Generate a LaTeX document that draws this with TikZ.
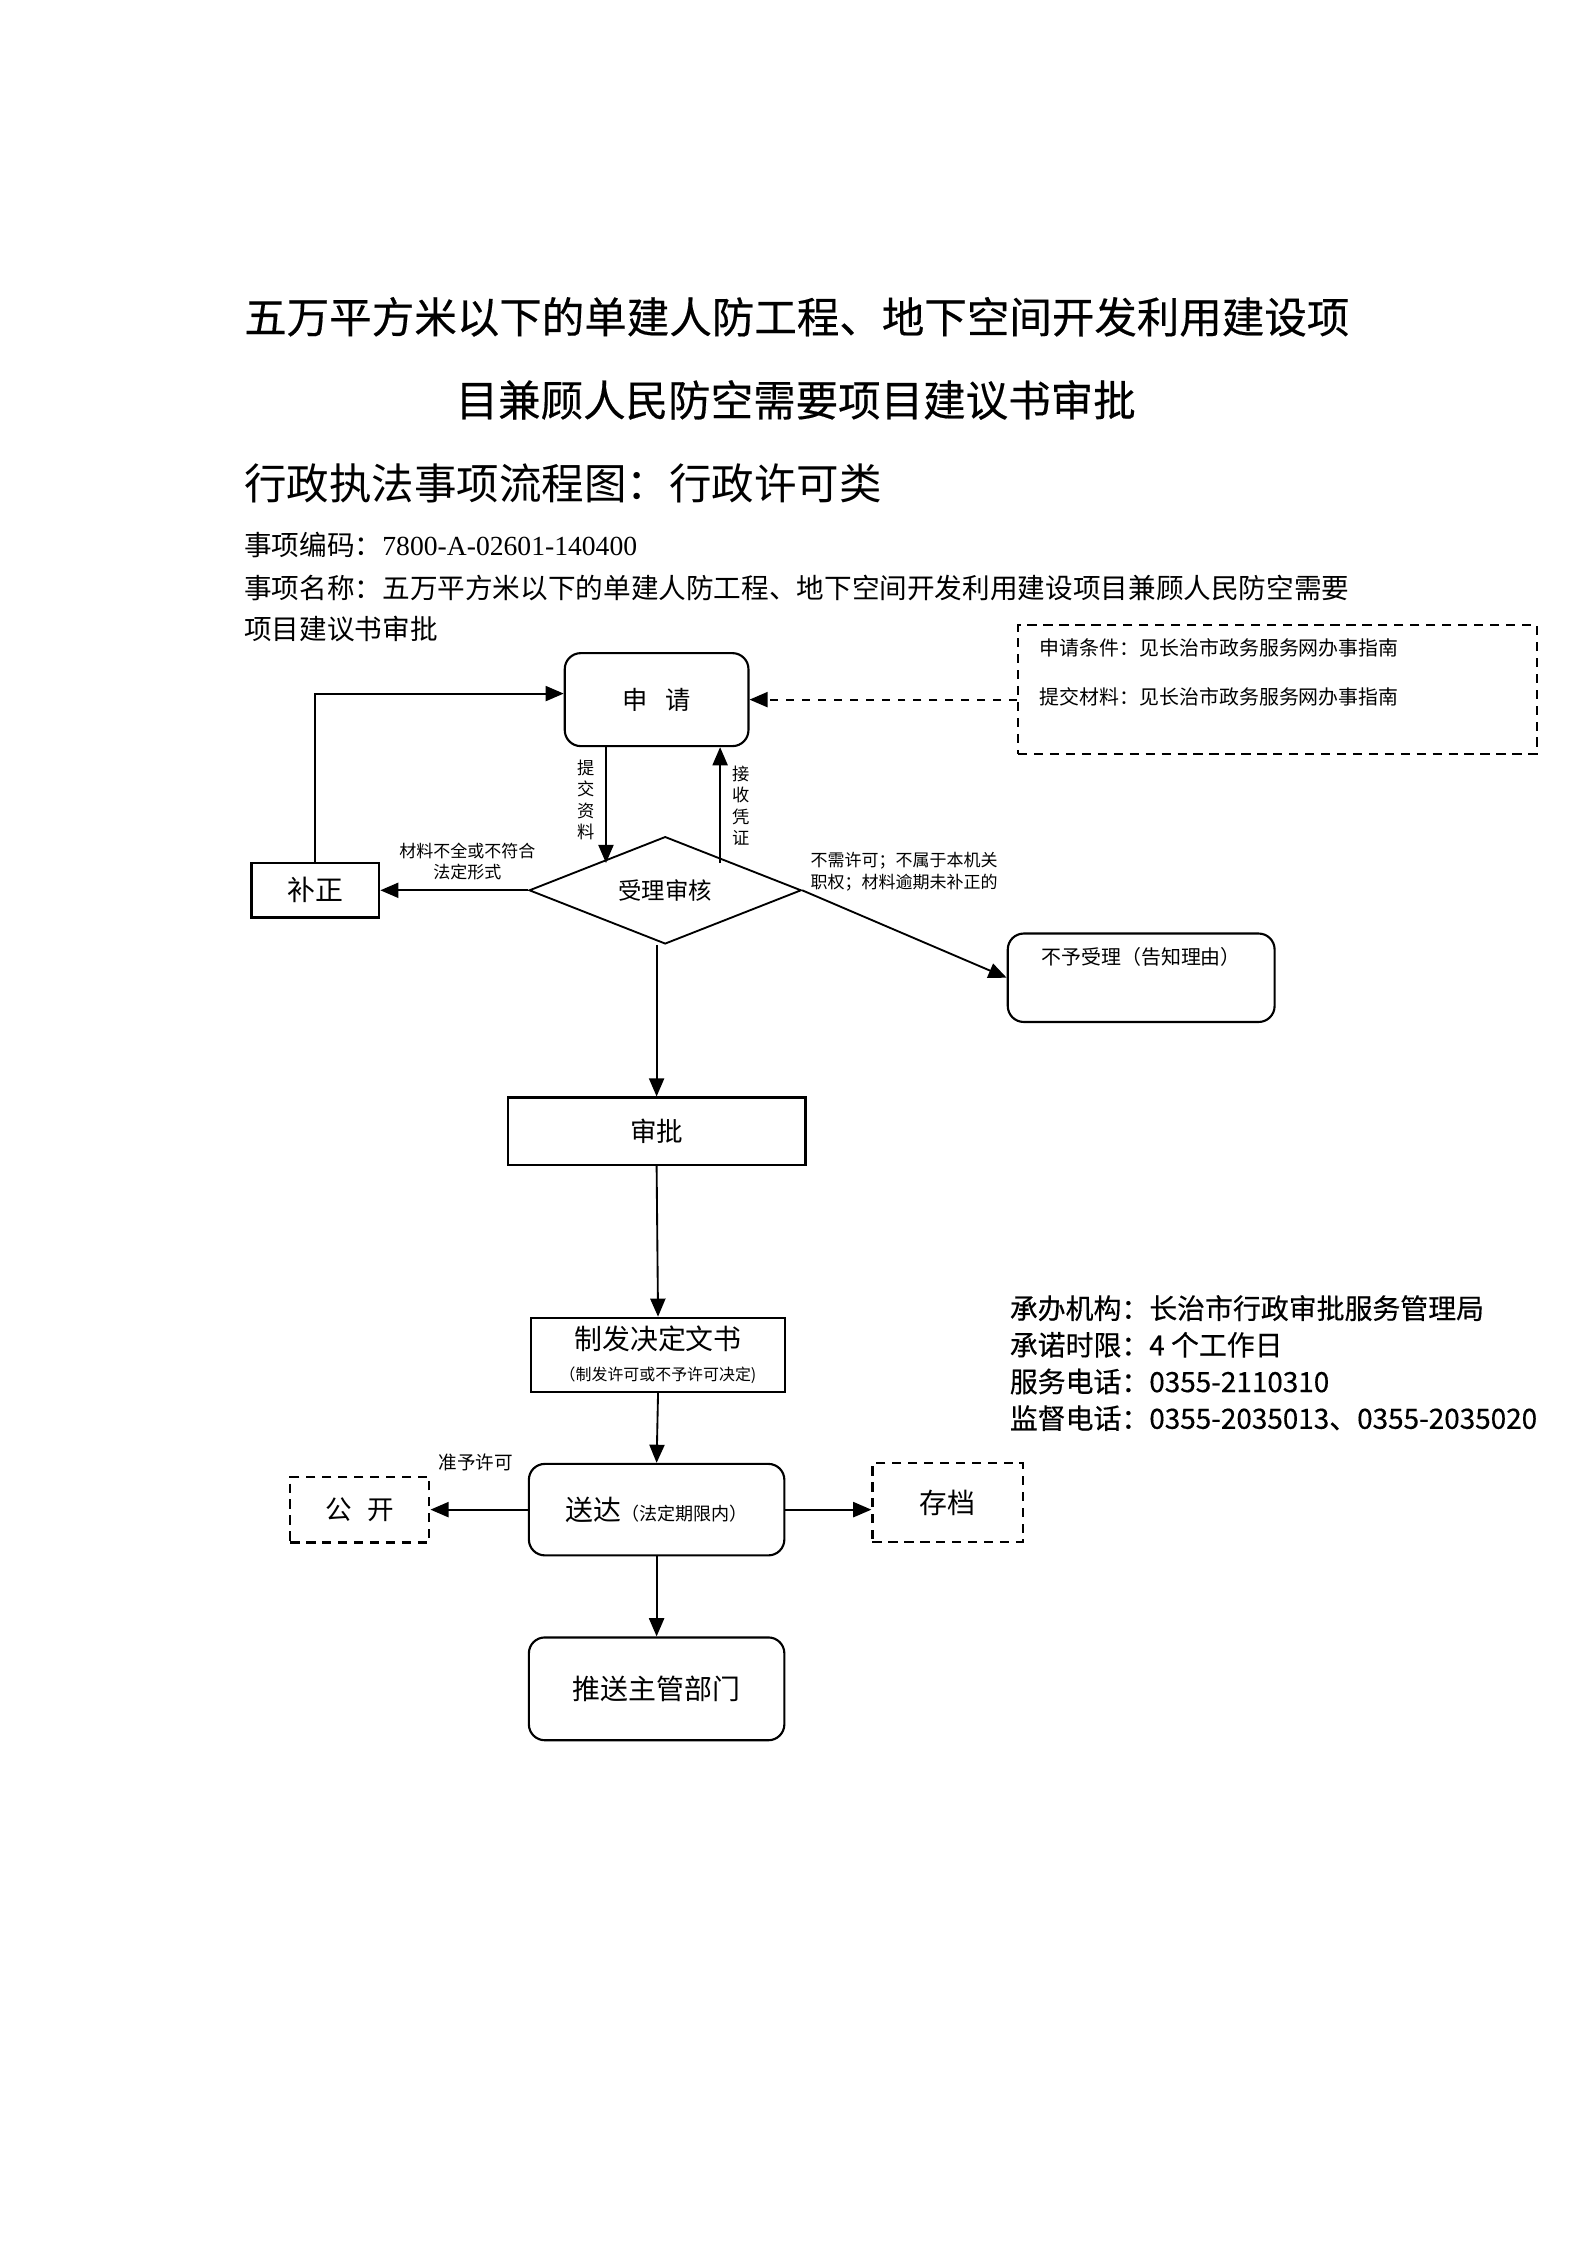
\documentclass[tikz,border=0pt]{standalone}
\usepackage{fontspec}
\setmainfont{Noto Sans CJK SC}
\newfontfamily\tnr{Liberation Serif}
\newfontfamily\hei[FakeBold=0.4]{Noto Sans CJK SC}
\usetikzlibrary{shapes.geometric,arrows.meta}
\newcommand\fsz[1]{\fontsize{#1}{#1}\selectfont}

\begin{document}
\begin{tikzpicture}[x=0.01896cm, y=-0.01896cm,
  box/.style={draw, line width=0.8pt, inner sep=0pt},
  rbox/.style={box, rounded corners=6pt},
  dbox/.style={draw, line width=0.8pt, dash pattern=on 3.5pt off 2.5pt, inner sep=0pt},
  dec/.style={draw, diamond, line width=0.7pt, inner sep=0pt, aspect=2.5},
  arr/.style={line width=0.7pt, -{Triangle[length=2.4mm,width=2mm]}},
  lab/.style={inner sep=0pt, font=\fsz{6.4}}]
\useasboundingbox (0,0) rectangle (21cm,-29.7cm);

% heading
\node (t1) at (170,221) [anchor=west, inner sep=0pt, font=\hei\fsz{16}] {五万平方米以下的单建人防工程、地下空间开发利用建设项};
\node (t2) at (555,279) [inner sep=0pt, font=\hei\fsz{16}] {目兼顾人民防空需要项目建议书审批};
\node (t3) at (170,337) [anchor=west, inner sep=0pt, font=\fsz{16}] {行政执法事项流程图：行政许可类};
\node (code) at (170,380) [anchor=west, inner sep=0pt, font=\fsz{10.4}] {事项编码：{\tnr 7800-A-02601-140400}};
\node (name1) at (170,410) [anchor=west, inner sep=0pt, font=\fsz{10.4}] {事项名称：五万平方米以下的单建人防工程、地下空间开发利用建设项目兼顾人民防空需要};
\node (name2) at (170,439) [anchor=west, inner sep=0pt, font=\fsz{10.4}] {项目建议书审批};

% boxes
\node (cond) at (891,481) [dbox, minimum width=6.86cm, minimum height=1.71cm] {};
\node (c1) at (725,452) [lab, anchor=west, font=\fsz{7.5}] {申请条件：见长治市政务服务网办事指南};
\node (c2) at (725,486) [lab, anchor=west, font=\fsz{7.5}] {提交材料：见长治市政务服务网办事指南};
\node (apply) at (458,488) [rbox, minimum width=2.43cm, minimum height=1.23cm, font=\fsz{9.5}] {申\hspace{0.7em}请};
\node (fix) at (220,621) [box, minimum width=1.69cm, minimum height=0.72cm, font=\fsz{10.5}] {补正};
\node (check) at (464,621) [dec, minimum width=3.60cm, minimum height=1.42cm, font=\fsz{8.8}] {受理审核};
\node (refuse) at (796,682) [rbox, minimum width=3.53cm, minimum height=1.17cm,
  label={[anchor=north, inner sep=0pt, yshift=-0.19cm, font=\fsz{7.5}]north:不予受理（告知理由）}] {};
\node (approve) at (458,789) [box, minimum width=3.94cm, minimum height=0.89cm, font=\fsz{10}] {审批};
\node (issue) at (459,945) [box, minimum width=3.36cm, minimum height=0.98cm, align=center, font=\fsz{10.5}] {制发决定文书\\[1pt]{\fsz{6}（制发许可或不予许可决定)}};
\node (deliver) at (458,1053) [rbox, minimum width=3.38cm, minimum height=1.21cm, font=\fsz{10.5}] {送达{\fsz{6.8}（法定期限内）}};
\node (publish) at (251,1053) [dbox, minimum width=1.84cm, minimum height=0.87cm, font=\fsz{10}] {公\hspace{0.6em}开};
\node (archive) at (661,1048) [dbox, minimum width=1.99cm, minimum height=1.04cm, font=\fsz{10.5}] {存档};
\node (push) at (458,1178) [rbox, minimum width=3.38cm, minimum height=1.36cm, font=\fsz{10.5}] {推送主管部门};

% contact
\node (info) at (704,903) [anchor=north west, align=left, inner sep=0pt, font=\hei\fontsize{10.5}{13.8}\selectfont] {承办机构：长治市行政审批服务管理局\\承诺时限：4 个工作日\\服务电话：0355-2110310\\监督电话：0355-2035013、0355-2035020};

% labels
\node (l1) at (409,558) [lab, align=center, font=\fontsize{6.5}{8.1}\selectfont] {提\\交\\资\\料};
\node (l2) at (517,562) [lab, align=center, font=\fontsize{6.5}{8.1}\selectfont] {接\\收\\凭\\证};
\node (l3) at (326,601) [lab, align=center, font=\fontsize{6.4}{8}\selectfont] {材料不全或不符合\\法定形式};
\node (l4) at (565,608) [lab, anchor=west, align=left, font=\fontsize{6.4}{8}\selectfont] {不需许可；不属于本机关\\职权；材料逾期未补正的};
\node (l5) at (332,1020) [lab, font=\fsz{7}] {准予许可};

% connectors
\draw[arr, dashed] (cond.west |- apply.east) to (apply.east);
\draw[arr] (fix.north) |- ([yshift=0.08cm]apply.west);
\draw[arr] ([xshift=-0.67cm]apply.south) to ([xshift=-0.67cm]apply.south |- check.north west);
\draw[arr] ([xshift=0.84cm]apply.south |- check.north east) to ([xshift=0.84cm]apply.south);
\draw[arr] (check.west) to (fix.east);
\draw[arr] (check.east) to (refuse.west);
\draw[arr] (approve.north |- check.south) to (approve.north);
\draw[arr] (approve.south) to (issue.north);
\draw[arr] (issue.south) to (deliver.north);
\draw[arr] (deliver.west) to (publish.east);
\draw[arr] (deliver.east) to (archive.west |- deliver.east);
\draw[arr] (deliver.south) to (push.north);
\end{tikzpicture}
\end{document}
